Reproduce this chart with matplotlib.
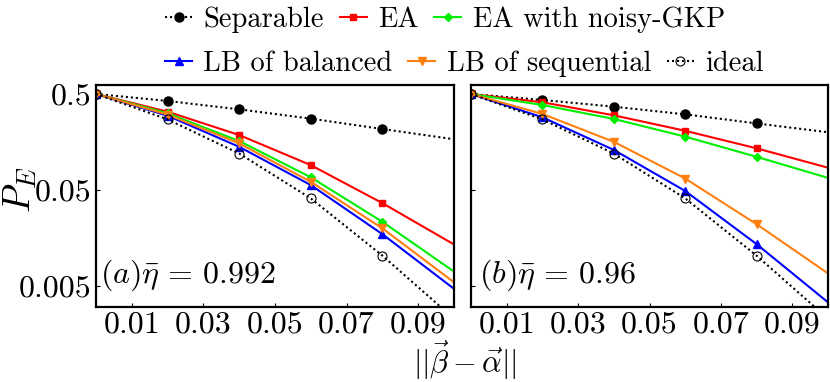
import matplotlib
matplotlib.use("Agg")
import matplotlib.pyplot as plt
from matplotlib.lines import Line2D
import numpy as np

plt.rcParams['font.family'] = ['cmr10', 'DejaVu Serif']
plt.rcParams['mathtext.fontset'] = 'cm'
plt.rcParams['axes.unicode_minus'] = False
plt.rcParams['axes.formatter.use_mathtext'] = True

# ---- data ----
x = [0.0, 0.02, 0.04, 0.06, 0.08, 0.10]

# panel (a) eta = 0.992
a_separable = [0.5, 0.423, 0.346, 0.277, 0.216, 0.169]
a_ea = [0.5, 0.327, 0.187, 0.091, 0.0366, 0.0136]
a_gkp = [0.5, 0.315, 0.162, 0.068, 0.0234, 0.0071]
a_balanced = [0.5, 0.297, 0.141, 0.0564, 0.0174, 0.0047]
a_sequential = [0.5, 0.305, 0.153, 0.061, 0.020, 0.0055]
a_ideal = [0.5, 0.272, 0.120, 0.041, 0.0104, 0.0023]

# panel (b) eta = 0.96
b_separable = [0.5, 0.433, 0.369, 0.307, 0.247, 0.200]
b_ea = [0.5, 0.410, 0.300, 0.207, 0.136, 0.0855]
b_gkp = [0.5, 0.384, 0.275, 0.180, 0.111, 0.067]
b_balanced = [0.5, 0.286, 0.131, 0.049, 0.0137, 0.0034]
b_sequential = [0.5, 0.310, 0.159, 0.066, 0.0221, 0.0068]
b_ideal = [0.5, 0.272, 0.120, 0.041, 0.0104, 0.0023]

series_names = ["Separable", "EA", "EA with noisy-GKP",
                "LB of balanced", "LB of sequential", "ideal"]
panel_labels = [r"$(a)\bar{\eta}\,=\,0.992$", r"$(b)\bar{\eta}\,=\,0.96$"]
xticks = [0.01, 0.03, 0.05, 0.07, 0.09]
xticklabels = ["0.01", "0.03", "0.05", "0.07", "0.09"]
yticks = [0.5, 0.05, 0.005]
yticklabels = ["0.5", "0.05", "0.005"]

# ---- styles ----
dot = (0, (1.0, 1.4))
styles = {
    "Separable": dict(color='black', ls=dot, lw=1.5, marker='o', ms=6.5,
                      mfc='black', mec='black'),
    "EA": dict(color='#ff0000', ls='-', lw=1.5, marker='s', ms=4.5,
               mfc='#ff0000', mec='#ff0000'),
    "EA with noisy-GKP": dict(color='#00ee00', ls='-', lw=1.5, marker='D', ms=4,
                              mfc='#00ee00', mec='#00ee00'),
    "LB of balanced": dict(color='#0000ff', ls='-', lw=1.5, marker='^', ms=5.5,
                           mfc='#0000ff', mec='#0000ff'),
    "LB of sequential": dict(color='#ff8010', ls='-', lw=1.5, marker='v', ms=5.5,
                             mfc='#ff8010', mec='#ff8010'),
    "ideal": dict(color='black', ls=dot, lw=1.5, marker='o', ms=6.5,
                  mfc='none', mec='black', mew=0.8),
}

fig = plt.figure(figsize=(8.3, 3.82), dpi=100)
axA = fig.add_axes([96/830, 1-307/382, 358/830, 222/382])
axB = fig.add_axes([471/830, 1-307/382, 357/830, 222/382])

panels = [
    (axA, [a_separable, a_ea, a_gkp, a_balanced, a_sequential, a_ideal]),
    (axB, [b_separable, b_ea, b_gkp, b_balanced, b_sequential, b_ideal]),
]
order = [0, 1, 2, 3, 4, 5]
for i, (ax, data) in enumerate(panels):
    for k in order:
        ax.plot(x, data[k], markevery=[0, 1, 2, 3, 4], **styles[series_names[k]])
    ax.set_yscale('log')
    ax.set_xlim(0, 0.1)
    ax.set_ylim(0.00304, 0.62)
    ax.yaxis.set_major_locator(matplotlib.ticker.FixedLocator(yticks))
    ax.yaxis.set_minor_locator(matplotlib.ticker.NullLocator())
    ax.set_xticks(xticks)
    ax.set_xticklabels(xticklabels)
    if i == 0:
        ax.set_yticklabels(yticklabels)
    else:
        ax.set_yticklabels([])
    ax.tick_params(axis='both', which='both', direction='in', length=3,
                   width=0.8, labelsize=23, pad=3)
    for sp in ax.spines.values():
        sp.set_linewidth(1.6)
    ax.text(0.012 if i == 0 else 0.022, 0.145, panel_labels[i],
            transform=ax.transAxes, fontsize=23, ha='left', va='center')

fig.text(0.025, 1-190/382, r"$P_E$", rotation=90, fontsize=27,
         ha='center', va='center')
fig.text(465/830, 1-360/382, r"$||\vec{\beta}-\vec{\alpha}||$", fontsize=22,
         ha='center', va='center')

def handle(name):
    st = dict(styles[name])
    return Line2D([], [], **st)

row1 = series_names[:3]
row2 = series_names[3:]
leg_kw = dict(frameon=False, fontsize=20.5, borderpad=0, borderaxespad=0,
              handlelength=0.95, handletextpad=0.4, columnspacing=0.55,
              loc='center left', ncol=3, numpoints=1)
l1 = fig.legend([handle(n) for n in row1], row1,
                bbox_to_anchor=(165/830, 1-20/382), **leg_kw)
l2 = fig.legend([handle(n) for n in row2], row2,
                bbox_to_anchor=(165/830, 1-64/382), **leg_kw)

fig.savefig("out.png", dpi=100)
